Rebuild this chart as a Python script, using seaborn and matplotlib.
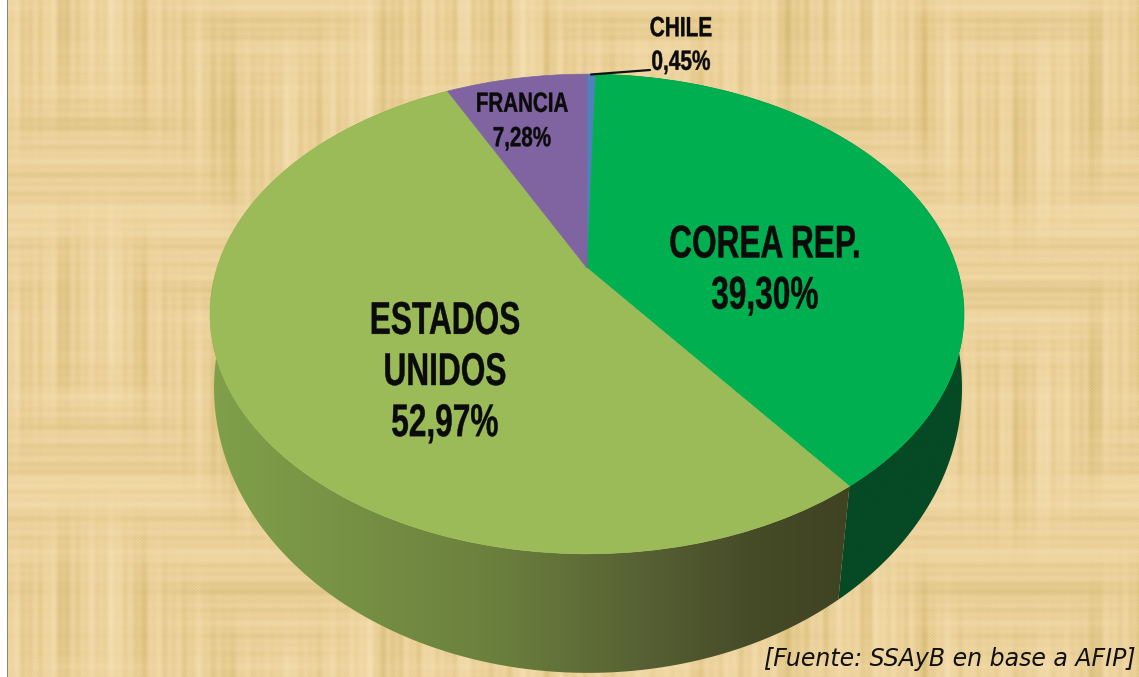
import numpy as np
import matplotlib
matplotlib.use("Agg")
import matplotlib.pyplot as plt
from matplotlib.patches import PathPatch
from matplotlib.path import Path
from matplotlib.patheffects import AbstractPathEffect
from matplotlib.transforms import Affine2D, Transform
import seaborn as sns

# Data
paises = ["CHILE", "COREA REP.", "ESTADOS\nUNIDOS", "FRANCIA"]
shares = [0.45, 39.30, 52.97, 7.28]
etiquetas = ["0,45%", "39,30%", "52,97%", "7,28%"]
colores = sns.color_palette(["#4f81bd", "#00b050", "#9bbb59", "#8064a2"])

W, H = 1139, 677


# Perspective of the unit disc onto the picture
class Perspectiva(Transform):
    input_dims = 2
    output_dims = 2

    def __init__(self, cx, cy, ax_x, ax_y, k):
        super().__init__()
        self.p = (cx, cy, ax_x, ax_y, k)

    def transform_non_affine(self, values):
        cx, cy, ax_x, ax_y, k = self.p
        values = np.asarray(values)
        w = 1 + k * values[:, 1]
        return np.column_stack([cx + ax_x * values[:, 0] / w, cy - ax_y * values[:, 1] / w])


# Squeezes real text horizontally around its centre (the original font is condensed)
class Condensa(AbstractPathEffect):
    def __init__(self, centro, sx, grosor=0.3):
        super().__init__()
        self.centro = centro
        self.sx = sx
        self.grosor = grosor

    def draw_path(self, renderer, gc, tpath, affine, rgbFace=None):
        aff = affine + Affine2D().translate(-self.centro, 0).scale(self.sx, 1).translate(self.centro, 0)
        gc0 = renderer.new_gc()
        gc0.copy_properties(gc)
        gc0.set_linewidth(self.grosor)
        gc0.set_foreground(rgbFace)
        renderer.draw_path(gc0, tpath, aff, rgbFace)
        gc0.restore()


arriba = Perspectiva(587, 268, 370, 231, 0.1917)
abajo = Perspectiva(588, 348, 370.3, 279.4, 0.14)


# Parchment background made of woven streaks
def textura():
    x = np.arange(W)
    y = np.arange(H)
    v = np.zeros(W)
    for f, p, a in [(0.047, 0.4, 0.5), (0.093, 1.9, 0.6), (0.171, 4.0, 0.6), (0.31, 2.2, 0.6), (0.67, 0.9, 0.5)]:
        v += a * np.sin(f * x + p + 2.5 * np.sin(0.013 * x + f))
    h = np.zeros(H)
    for f, p, a in [(0.059, 2.1, 0.5), (0.127, 0.3, 0.5), (0.29, 5.0, 0.5), (0.71, 1.2, 0.4)]:
        h += a * np.sin(f * y + p + 2.0 * np.sin(0.017 * y + f))
    xx, yy = np.meshgrid(x, y)
    mezcla = 0.5 + 0.5 * np.sin(0.021 * yy + 1.4 * np.sin(0.017 * xx))
    n = v[None, :] * mezcla + 0.8 * h[:, None] * (1.2 - mezcla)
    n = n + 0.6 * np.sin(2 * np.pi * xx / 3.3) * np.sin(2 * np.pi * yy / 3.1)
    n = n / np.abs(n).max()
    base = np.array([236, 210, 155]) / 255
    claro = np.array([248, 228, 186]) / 255
    oscuro = np.array([212, 184, 112]) / 255
    img = np.where(n[..., None] > 0, base + (claro - base) * n[..., None], base + (oscuro - base) * -n[..., None])
    img[:, :7] = 1
    img[:, 7] = (0.55, 0.52, 0.42)
    return img


def pared(ax, t1, t2, paradas):
    # side wall between the top rim and the bottom rim
    th = np.radians(np.linspace(t1, t2, 200))
    c = np.column_stack([np.cos(th), np.sin(th)])
    verts = np.vstack([arriba.transform(c), abajo.transform(c)[::-1]])
    clip = PathPatch(Path(np.vstack([verts, verts[0]]), closed=True), transform=ax.transData, fc="none", ec="none")
    ax.add_patch(clip)
    xs = np.linspace(200, 980, 400)
    pos, cols = zip(*paradas)
    cols = np.array([matplotlib.colors.to_rgb(c) for c in cols])
    grad = np.stack([np.interp(xs, pos, cols[:, i]) for i in range(3)], axis=-1)[None, :, :]
    im = ax.imshow(grad, extent=(200, 980, H, 0), aspect="auto", zorder=2)
    im.set_clip_path(clip)


def rotulo(ax, x, y, texto, size, sx, interlinea):
    ax.text(x, y, texto, ha="center", va="center", fontsize=size, fontweight="bold", color="#0b0b0b",
            linespacing=interlinea, path_effects=[Condensa(x, sx)], zorder=5)


def main():
    sns.set_theme(style="white")
    plt.rcParams["font.family"] = ["Liberation Sans", "DejaVu Sans"]

    fig = plt.figure(figsize=(W / 100, H / 100), dpi=100)
    ax = fig.add_axes([0, 0, 1, 1])

    wedges, _ = ax.pie(shares, startangle=90, counterclock=False, colors=colores, frame=False)
    ax.imshow(textura(), extent=(0, W, H, 0), aspect="auto", zorder=0, interpolation="bilinear")

    for w, c in zip(wedges, colores):
        w.set_transform(arriba + ax.transData)
        w.set_edgecolor(c)
        w.set_linewidth(0.5)
        w.set_zorder(3)

    # walls seen from the front: Corea and Estados Unidos
    corea = wedges[1]
    eeuu = wedges[2]
    pared(ax, corea.theta1, corea.theta2, [(200, "#054a25"), (980, "#054a25")])
    pared(ax, eeuu.theta1, eeuu.theta2, [(210, "#80a04a"), (330, "#789345"), (500, "#6a7f3d"), (650, "#565f33"), (760, "#454a27"), (850, "#3f4322")])

    ax.set_aspect("auto")
    ax.set_xlim(0, W)
    ax.set_ylim(H, 0)
    ax.axis("off")

    rotulo(ax, 765, 271, paises[1] + "\n" + etiquetas[1], 33, 0.69, 1.21)
    rotulo(ax, 445, 373, paises[2] + "\n" + etiquetas[2], 33, 0.69, 1.21)
    rotulo(ax, 522, 122, paises[3] + "\n" + etiquetas[3], 20, 0.74, 1.42)
    rotulo(ax, 681, 46, paises[0] + "\n" + etiquetas[0], 20, 0.75, 1.38)
    ax.plot([591, 650], [74.5, 70], color="#111111", lw=1.6, zorder=6)

    ax.text(1136, 659, "[Fuente: SSAyB en base a AFIP]", ha="right", va="center", fontsize=17, style="italic",
            family="DejaVu Sans", color="#111111", zorder=5)

    fig.savefig("out.png", dpi=100)


if __name__ == "__main__":
    main()
